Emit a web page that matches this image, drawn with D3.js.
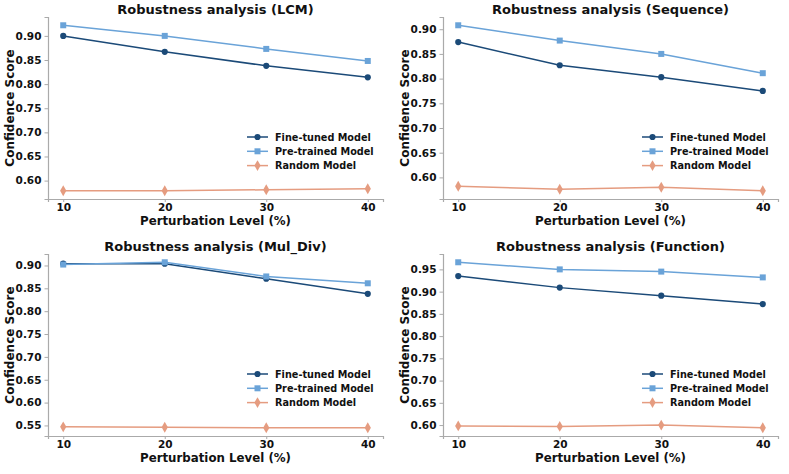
<!DOCTYPE html>
<html>
<head>
<meta charset="utf-8">
<script src="https://cdn.jsdelivr.net/npm/d3@7"></script>
<style>
  body { margin: 0; background: #fff; }
  text { font-family: "DejaVu Sans", sans-serif; font-weight: bold; fill: #111; }
</style>
</head>
<body>
<script>
var levels = [10, 20, 30, 40];
var seriesNames = ['Fine-tuned Model', 'Pre-trained Model', 'Random Model'];
var colors = ['#1b4a78', '#6aa3d8', '#e59c80'];

var titles = ['Robustness analysis (LCM)', 'Robustness analysis (Sequence)',
              'Robustness analysis (Mul_Div)', 'Robustness analysis (Function)'];

// values per panel: fine-tuned, pre-trained, random
var lcm = [
  [0.900, 0.867, 0.838, 0.814],
  [0.922, 0.900, 0.873, 0.848],
  [0.579, 0.579, 0.581, 0.583]
];
var sequence = [
  [0.874, 0.827, 0.803, 0.775],
  [0.908, 0.877, 0.850, 0.811],
  [0.582, 0.576, 0.580, 0.573]
];
var mulDiv = [
  [0.904, 0.904, 0.871, 0.838],
  [0.902, 0.907, 0.876, 0.861],
  [0.547, 0.546, 0.545, 0.545]
];
var func = [
  [0.935, 0.909, 0.891, 0.872],
  [0.966, 0.950, 0.945, 0.932],
  [0.598, 0.597, 0.600, 0.594]
];
var panels = [lcm, sequence, mulDiv, func];

var W = 789, H = 474;
var svg = d3.select('body').append('svg')
  .attr('width', W)
  .attr('height', H);

var m = { left: 48, right: 383, top: 17, bottom: 199 };

var symbols = [
  d3.symbol().type(d3.symbolCircle).size(30),
  d3.symbol().type(d3.symbolSquare).size(36),
  d3.symbol().type(d3.symbolDiamond).size(34)
];

panels.forEach(function (data, p) {
  var ox = (p % 2) * 395, oy = Math.floor(p / 2) * 237;
  var g = svg.append('g').attr('transform', 'translate(' + ox + ',' + oy + ')');

  // matplotlib-like 5% margins
  var all = d3.merge(data);
  var lo = d3.min(all), hi = d3.max(all), pad = (hi - lo) * 0.05;
  var y = d3.scaleLinear().domain([lo - pad, hi + pad]).range([m.bottom, m.top]);
  var x = d3.scaleLinear().domain([8.5, 41.5]).range([m.left, m.right]);

  var yTicks = d3.range(Math.ceil((lo - pad) / 0.05) * 0.05, hi + pad, 0.05);

  var xAxis = g.append('g')
    .attr('transform', 'translate(0,' + m.bottom + ')')
    .call(d3.axisBottom(x).tickValues(levels).tickSize(3).tickPadding(1.5));
  var yAxis = g.append('g')
    .attr('transform', 'translate(' + m.left + ',0)')
    .call(d3.axisLeft(y).tickValues(yTicks).tickFormat(d3.format('.2f')).tickSize(3.5).tickPadding(3));

  [xAxis, yAxis].forEach(function (a) {
    a.select('.domain').attr('stroke', '#aaa').attr('stroke-width', 1.2);
    a.selectAll('.tick line').attr('stroke', '#aaa');
    a.selectAll('.tick text').style('font-size', '10.5px').attr('fill', '#111');
  });

  data.forEach(function (vals, s) {
    var line = d3.line()
      .x(function (d, i) { return x(levels[i]); })
      .y(function (d) { return y(d); });
    g.append('path')
      .datum(vals)
      .attr('d', line)
      .attr('fill', 'none')
      .attr('stroke', colors[s])
      .attr('stroke-width', 1.5);
    g.selectAll('.pt' + s)
      .data(vals)
      .enter()
      .append('path')
      .attr('d', symbols[s])
      .attr('transform', function (d, i) {
        return 'translate(' + x(levels[i]) + ',' + y(d) + ')';
      })
      .attr('fill', colors[s]);
  });

  g.append('text')
    .attr('x', (m.left + m.right) / 2)
    .attr('y', 13.5)
    .attr('text-anchor', 'middle')
    .style('font-size', '13px')
    .text(titles[p]);

  g.append('text')
    .attr('x', (m.left + m.right) / 2)
    .attr('y', 224.5)
    .attr('text-anchor', 'middle')
    .style('font-size', '11.8px')
    .text('Perturbation Level (%)');

  g.append('text')
    .attr('transform', 'translate(14,' + (m.top + m.bottom) / 2 + ') rotate(-90)')
    .attr('text-anchor', 'middle')
    .style('font-size', '12px')
    .text('Confidence Score');

  // legend
  var leg = g.append('g').attr('transform', 'translate(247,137)');
  seriesNames.forEach(function (name, s) {
    var row = leg.append('g').attr('transform', 'translate(0,' + (s * 14.3) + ')');
    row.append('line')
      .attr('x1', 0).attr('x2', 21)
      .attr('stroke', colors[s]).attr('stroke-width', 1.5);
    row.append('path')
      .attr('d', symbols[s])
      .attr('transform', 'translate(10.5,0)')
      .attr('fill', colors[s]);
    row.append('text')
      .attr('x', 28)
      .attr('y', 3.6)
      .style('font-size', '9.7px')
      .text(name);
  });
});
</script>
</body>
</html>
